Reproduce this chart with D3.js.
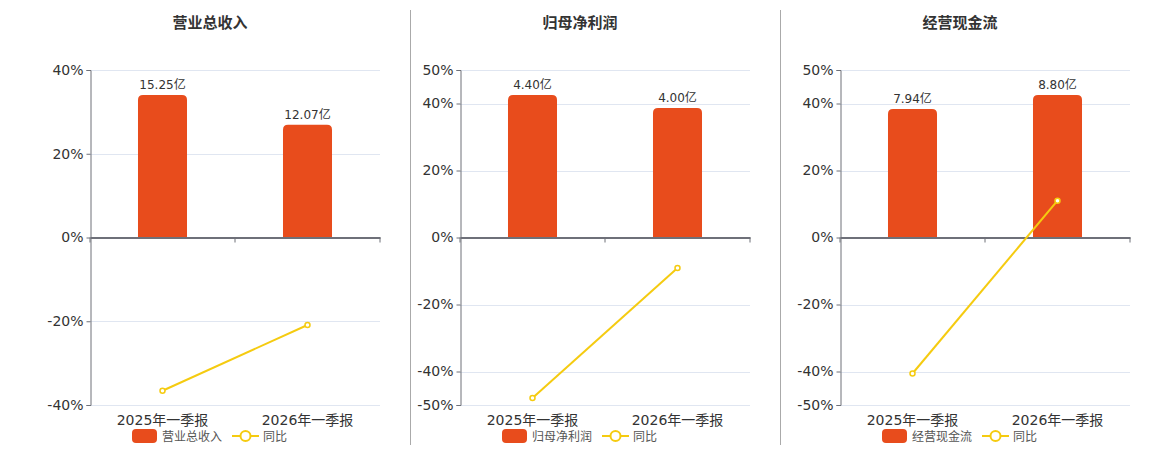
<!DOCTYPE html>
<html>
<head>
<meta charset="utf-8">
<script src="https://cdn.jsdelivr.net/npm/d3@7/dist/d3.min.js"></script>
<style>
  body { margin: 0; background: #fff; }
  text { font-family: "DejaVu Sans", "Noto Sans CJK SC", sans-serif; }
</style>
</head>
<body>
<div id="chart"></div>
<script>
// data
var titles = ["营业总收入", "归母净利润", "经营现金流"];
var periods = ["2025年一季报", "2026年一季报"];
var revenue = [15.25, 12.07];
var netProfit = [4.40, 4.00];
var cashFlow = [7.94, 8.80];
var revenueYoy = [-36.6, -20.9];
var netProfitYoy = [-47.9, -9.1];
var cashFlowYoy = [-40.6, 11.0];
var ticksA = [40, 20, 0, -20, -40];
var ticksB = [50, 40, 20, 0, -20, -40, -50];

var barValues = [revenue, netProfit, cashFlow];
var yoyValues = [revenueYoy, netProfitYoy, cashFlowYoy];
var tickSets = [ticksA, ticksB, ticksB];

var svgWidth = 1160;
var svgHeight = 450;

var barColor = "#e84c1c";
var lineColor = "#f5cb10";

var panels = [
  { left: 90, right: 380, center: 210 },
  { left: 460, right: 750, center: 580 },
  { left: 840, right: 1130, center: 960 }
];
var plotTop = 70, plotBottom = 405;

var svg = d3.select("#chart")
  .append("svg")
  .attr("width", svgWidth)
  .attr("height", svgHeight);

// separators between panels
[410.5, 780.5].forEach(function(x) {
  svg.append("line")
    .attr("x1", x).attr("x2", x)
    .attr("y1", 10).attr("y2", 445)
    .attr("stroke", "#aaaaaa")
    .attr("stroke-width", 1);
});

panels.forEach(function(p, i) {
  var ticks = tickSets[i];
  var g = svg.append("g");

  // title
  g.append("text")
    .attr("x", p.center)
    .attr("y", 28)
    .attr("text-anchor", "middle")
    .attr("font-size", "15px")
    .attr("font-weight", "bold")
    .attr("fill", "#333")
    .text(titles[i]);

  var x = d3.scaleBand()
    .domain(periods)
    .range([p.left, p.right]);

  var y = d3.scaleLinear()
    .domain([d3.min(ticks), d3.max(ticks)])
    .range([plotBottom, plotTop]);

  // bar values sit on their own hidden axis, zero aligned with 0%
  var barMax = d3.max(barValues[i]) / 0.851;
  var yBar = d3.scaleLinear()
    .domain([0, barMax])
    .range([y(0), plotTop]);

  // gridlines
  g.selectAll(".grid")
    .data(ticks.filter(function(t) { return t !== 0; }))
    .enter()
    .append("line")
    .attr("x1", p.left).attr("x2", p.right)
    .attr("y1", function(d) { return Math.round(y(d)) + 0.5; })
    .attr("y2", function(d) { return Math.round(y(d)) + 0.5; })
    .attr("stroke", "#e0e6f1");

  // y axis
  var leftAxis = d3.axisLeft(y)
    .tickValues(ticks)
    .tickSize(4)
    .tickFormat(function(d) { return d + "%"; });

  var ya = g.append("g")
    .attr("transform", "translate(" + (p.left + 0.5) + ",0)")
    .call(leftAxis);
  ya.select(".domain").attr("stroke", "#6e7079");
  ya.selectAll(".tick line").attr("stroke", "#6e7079");
  ya.selectAll(".tick text")
    .attr("font-size", "14px")
    .attr("fill", "#333")
    .attr("font-family", "DejaVu Sans, sans-serif");

  // bars with rounded tops
  var bw = x.bandwidth() * 0.338;
  var r = 5;
  g.selectAll(".bar")
    .data(barValues[i])
    .enter()
    .append("path")
    .attr("fill", barColor)
    .attr("d", function(d, j) {
      var x0 = x(periods[j]) + (x.bandwidth() - bw) / 2;
      var x1 = x0 + bw;
      var y0 = y(0);
      var y1 = yBar(d);
      return "M" + x0 + "," + y0 +
        "L" + x0 + "," + (y1 + r) +
        "Q" + x0 + "," + y1 + " " + (x0 + r) + "," + y1 +
        "L" + (x1 - r) + "," + y1 +
        "Q" + x1 + "," + y1 + " " + x1 + "," + (y1 + r) +
        "L" + x1 + "," + y0 + "Z";
    });

  g.selectAll(".barlabel")
    .data(barValues[i])
    .enter()
    .append("text")
    .attr("x", function(d, j) { return x(periods[j]) + x.bandwidth() / 2; })
    .attr("y", function(d) { return yBar(d) - 6; })
    .attr("text-anchor", "middle")
    .attr("font-size", "12px")
    .attr("fill", "#333")
    .text(function(d) { return d.toFixed(2) + "亿"; });

  // x axis on the zero line
  var bottomAxis = d3.axisBottom(x).tickSize(0).tickFormat("");
  var xa = g.append("g")
    .attr("transform", "translate(0," + y(0) + ")")
    .call(bottomAxis);
  xa.select(".domain").attr("stroke", "#6e7079").attr("stroke-width", 2);
  xa.selectAll(".tick").remove();
  [p.left, (p.left + p.right) / 2, p.right].forEach(function(tx) {
    xa.append("line")
      .attr("x1", tx).attr("x2", tx)
      .attr("y1", 0).attr("y2", 5)
      .attr("stroke", "#6e7079");
  });

  // category labels
  g.selectAll(".cat")
    .data(periods)
    .enter()
    .append("text")
    .attr("x", function(d) { return x(d) + x.bandwidth() / 2; })
    .attr("y", 425)
    .attr("text-anchor", "middle")
    .attr("font-size", "14px")
    .attr("fill", "#333")
    .text(function(d) { return d; });

  // yoy line
  var line = d3.line()
    .x(function(d, j) { return x(periods[j]) + x.bandwidth() / 2; })
    .y(function(d) { return y(d); });

  g.append("path")
    .datum(yoyValues[i])
    .attr("fill", "none")
    .attr("stroke", lineColor)
    .attr("stroke-width", 2)
    .attr("d", line);

  g.selectAll(".pt")
    .data(yoyValues[i])
    .enter()
    .append("circle")
    .attr("cx", function(d, j) { return x(periods[j]) + x.bandwidth() / 2; })
    .attr("cy", function(d) { return y(d); })
    .attr("r", 2.5)
    .attr("fill", "#fff")
    .attr("stroke", lineColor)
    .attr("stroke-width", 1.5);

  // legend
  var lg = g.append("g").attr("transform", "translate(" + p.center + ",0)");
  lg.append("rect")
    .attr("x", -78).attr("y", 429)
    .attr("width", 25).attr("height", 14)
    .attr("rx", 4)
    .attr("fill", barColor);
  lg.append("text")
    .attr("x", -48).attr("y", 441)
    .attr("font-size", "12px")
    .attr("fill", "#555")
    .text(titles[i]);
  lg.append("line")
    .attr("x1", 22).attr("x2", 49)
    .attr("y1", 436).attr("y2", 436)
    .attr("stroke", lineColor)
    .attr("stroke-width", 2);
  lg.append("circle")
    .attr("cx", 35.5).attr("cy", 436)
    .attr("r", 5)
    .attr("fill", "#fff")
    .attr("stroke", lineColor)
    .attr("stroke-width", 2);
  lg.append("text")
    .attr("x", 53).attr("y", 441)
    .attr("font-size", "12px")
    .attr("fill", "#555")
    .text("同比");
});
</script>
</body>
</html>
